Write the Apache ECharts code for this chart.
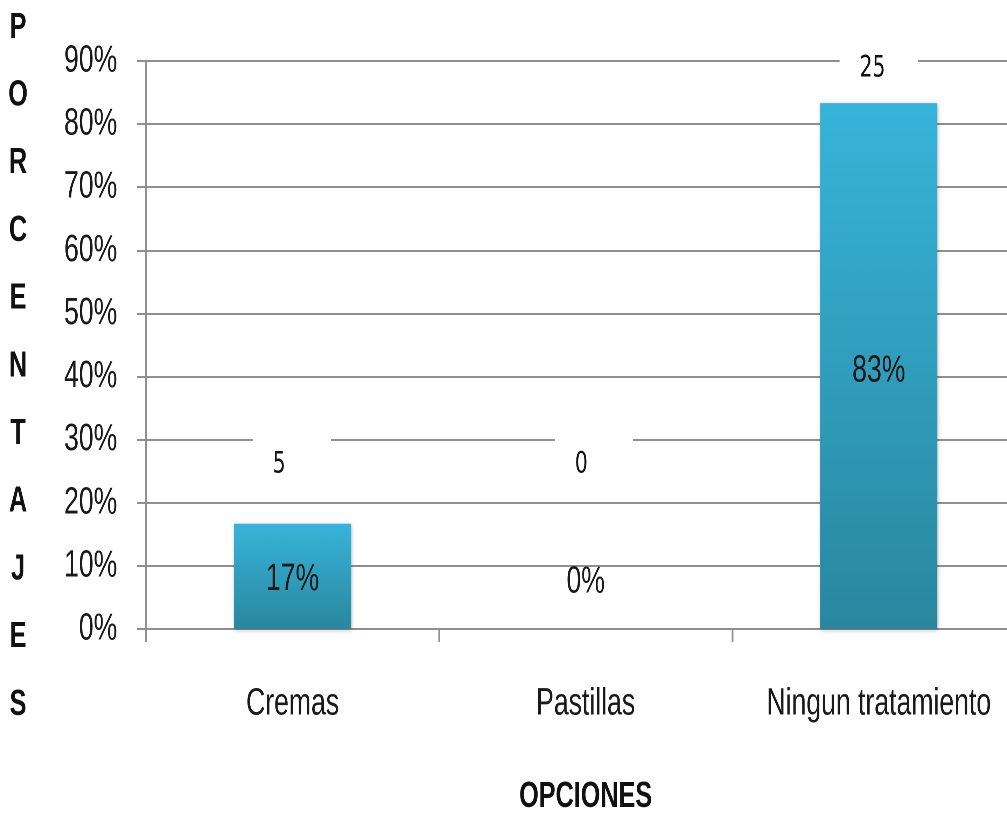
<!DOCTYPE html>
<html>
<head>
<meta charset="utf-8">
<script src="https://cdn.jsdelivr.net/npm/echarts@6/dist/echarts.min.js"></script>
<style>
  html, body { margin: 0; padding: 0; background: #fff; overflow: hidden; }
  /* The chart is laid out wide and squeezed horizontally to get the condensed lettering */
  #chart { width: 1438.6px; height: 816px; transform: scaleX(0.7); transform-origin: 0 0; }
</style>
</head>
<body>
<div id="chart"></div>
<script>
// Opciones de tratamiento y resultados de la encuesta
const categorias = ['Cremas', 'Pastillas', 'Ningun tratamiento'];
const frecuencias = [5, 0, 25];
const porcentajes = [16.67, 0, 83.33];
const ejeY = { min: 0, max: 90, intervalo: 10 };
const tituloY = 'PORCENTAJES';
const tituloX = 'OPCIONES';

// Label placement (styling only, in layout units before the horizontal squeeze)
const desplazamientoPct = [[0, 3], [0, -47], [0, 5]];
const desplazamientoFrec = [[-57, 0], [-44, 0], [-56, 0]];
const distanciaFrec = [31, 136, 6];

const sans = '"Liberation Sans", Arial, sans-serif';
const gris = '#8f8f8f';

const chart = echarts.init(document.getElementById('chart'), null, { renderer: 'canvas', devicePixelRatio: 2 });

chart.setOption({
  animation: false,
  backgroundColor: '#ffffff',
  title: {
    text: tituloY.split('').join('\n'),
    left: 25.7,
    top: -6,
    padding: 0,
    textAlign: 'center',
    textStyle: { fontFamily: sans, fontWeight: 'bold', fontSize: 36, color: '#111', lineHeight: 67.7 }
  },
  grid: { left: 208.6, top: 61, bottom: 187, right: -25.7, containLabel: false, outerBoundsMode: 'none' },
  xAxis: {
    type: 'category',
    data: categorias,
    boundaryGap: true,
    name: tituloX,
    nameLocation: 'middle',
    nameGap: 150,
    nameTextStyle: { fontFamily: sans, fontWeight: 'bold', fontSize: 36, color: '#111' },
    axisLine: { show: true, lineStyle: { color: gris, width: 2 } },
    axisTick: { show: true, alignWithLabel: false, length: 13, lineStyle: { color: gris, width: 2.5 } },
    axisLabel: { fontFamily: sans, fontSize: 38, color: '#1a1a1a', margin: 56, interval: 0 },
    splitLine: { show: false }
  },
  yAxis: {
    type: 'value',
    min: ejeY.min,
    max: ejeY.max,
    interval: ejeY.intervalo,
    axisLine: { show: true, lineStyle: { color: gris, width: 2.5 } },
    axisTick: { show: true, length: 13, lineStyle: { color: gris, width: 2 } },
    axisLabel: { fontFamily: sans, fontSize: 38, color: '#1a1a1a', margin: 41, formatter: '{value}%' },
    splitLine: { show: true, lineStyle: { color: gris, width: 2 } }
  },
  series: [
    {
      name: 'Porcentaje',
      type: 'bar',
      barWidth: '40%',
      data: porcentajes.map((v, i) => ({
        value: v,
        label: { offset: desplazamientoPct[i] }
      })),
      itemStyle: {
        color: new echarts.graphic.LinearGradient(0, 0, 0, 1, [
          { offset: 0, color: '#37b4da' },
          { offset: 1, color: '#2a879f' }
        ]),
        shadowBlur: 5,
        shadowColor: 'rgba(0,0,0,0.25)',
        shadowOffsetX: 1,
        shadowOffsetY: 1
      },
      label: {
        show: true,
        position: 'inside',
        fontFamily: sans,
        fontSize: 38,
        color: '#1a1a1a',
        formatter: p => Math.round(p.value) + '%'
      },
      z: 3
    },
    {
      name: 'Frecuencia',
      type: 'bar',
      barWidth: '40%',
      barGap: '-100%',
      silent: true,
      data: porcentajes.map((v, i) => ({
        value: v,
        label: { distance: distanciaFrec[i], offset: desplazamientoFrec[i] }
      })),
      itemStyle: { color: 'rgba(0,0,0,0)' },
      label: {
        show: true,
        position: 'top',
        fontFamily: '"DejaVu Sans", sans-serif',
        fontSize: 29,
        color: '#111',
        backgroundColor: '#ffffff',
        width: 83,
        padding: [0, 0, 0, 28.6],
        lineHeight: 56,
        align: 'left',
        formatter: p => String(frecuencias[p.dataIndex])
      },
      z: 4
    }
  ]
});
</script>
</body>
</html>
